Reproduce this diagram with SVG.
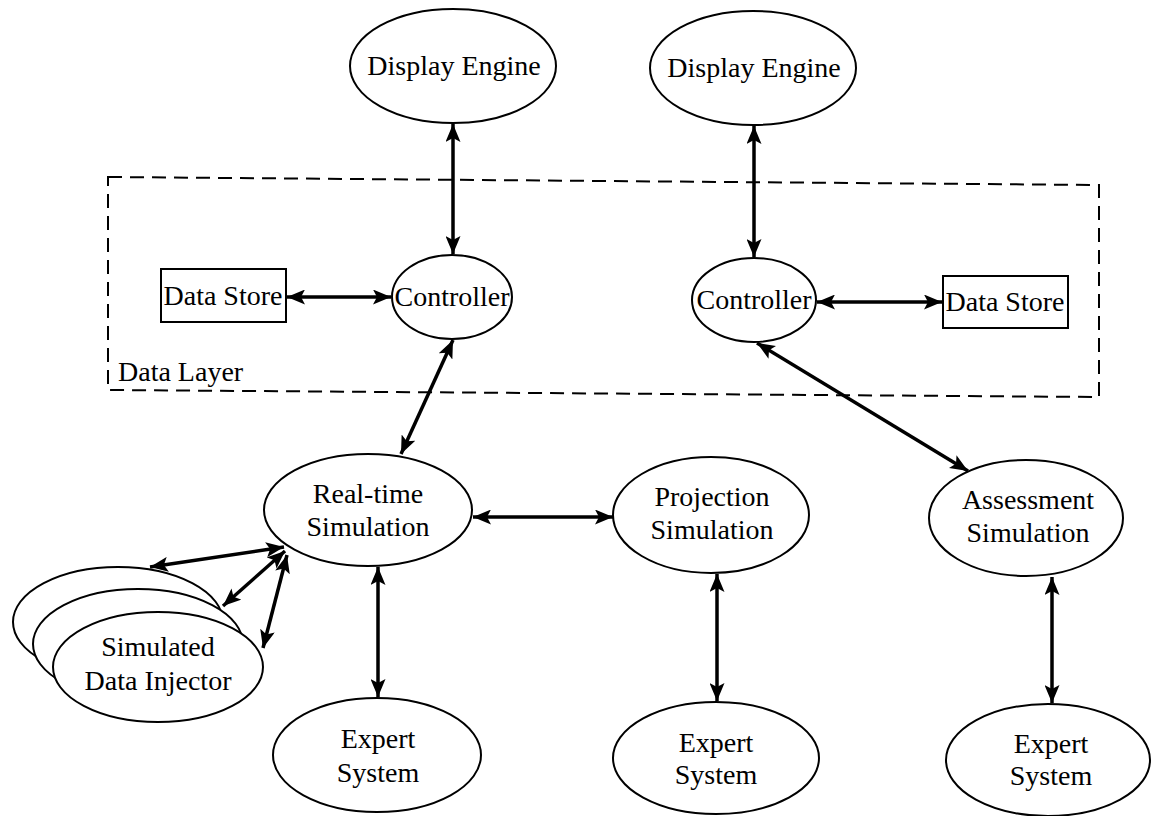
<svg xmlns="http://www.w3.org/2000/svg" width="1151" height="816" viewBox="0 0 1151 816">
<style>
  .n { fill: #fff; stroke: #000; stroke-width: 2; }
  .t { font-family: "Liberation Serif", "Times New Roman", serif; font-size: 28px; fill: #000; text-anchor: middle; }
  .c { stroke: #000; stroke-width: 3.5; fill: none; marker-start: url(#ah); marker-end: url(#ah); }
  .dash { fill: none; stroke: #000; stroke-width: 2; stroke-dasharray: 14 8; }
</style>
<defs>
  <marker id="ah" viewBox="0 0 18 15" refX="18" refY="7.5" markerWidth="18" markerHeight="15" markerUnits="userSpaceOnUse" orient="auto-start-reverse">
    <path d="M0,0 L18,7.5 L0,15 L4,7.5 z" fill="#000"/>
  </marker>
</defs>
<rect width="1151" height="816" fill="#fff"/>

<g id="data-layer">
  <path class="dash" d="M108,177 L1099,185 L1099,397 L108,390 Z"/>
  <text x="118" y="381" class="t" style="text-anchor:start">Data Layer</text>
</g>

<g id="display-engine-1">
  <ellipse class="n" cx="453" cy="66" rx="103" ry="57"/>
  <text class="t" x="454" y="75">Display Engine</text>
</g>
<g id="display-engine-2">
  <ellipse class="n" cx="753" cy="68" rx="103" ry="57"/>
  <text class="t" x="754" y="77">Display Engine</text>
</g>

<g id="data-store-1">
  <rect class="n" x="161" y="269" width="125" height="53"/>
  <text class="t" x="223" y="305">Data Store</text>
</g>
<g id="controller-1">
  <ellipse class="n" cx="452" cy="297" rx="60" ry="42"/>
  <text class="t" x="452" y="306">Controller</text>
</g>
<g id="controller-2">
  <ellipse class="n" cx="754" cy="300" rx="62" ry="42"/>
  <text class="t" x="754" y="309">Controller</text>
</g>
<g id="data-store-2">
  <rect class="n" x="943" y="276" width="125" height="52"/>
  <text class="t" x="1005" y="311">Data Store</text>
</g>

<g id="real-time-simulation">
  <ellipse class="n" cx="368" cy="510" rx="104" ry="56"/>
  <text class="t" x="368" y="503">Real-time</text>
  <text class="t" x="368" y="536">Simulation</text>
</g>
<g id="projection-simulation">
  <ellipse class="n" cx="711" cy="515" rx="98" ry="58"/>
  <text class="t" x="712" y="506">Projection</text>
  <text class="t" x="712" y="539">Simulation</text>
</g>
<g id="assessment-simulation">
  <ellipse class="n" cx="1026" cy="518" rx="97" ry="58"/>
  <text class="t" x="1028" y="509">Assessment</text>
  <text class="t" x="1028" y="542">Simulation</text>
</g>

<g id="simulated-data-injector">
  <ellipse class="n" cx="118" cy="622" rx="105" ry="55"/>
  <ellipse class="n" cx="138" cy="644" rx="105" ry="55"/>
  <ellipse class="n" cx="158" cy="667" rx="105" ry="55"/>
  <text class="t" x="158" y="656">Simulated</text>
  <text class="t" x="158" y="690">Data Injector</text>
</g>

<g id="expert-system-1">
  <ellipse class="n" cx="377" cy="755" rx="104" ry="57"/>
  <text class="t" x="378" y="748">Expert</text>
  <text class="t" x="378" y="782">System</text>
</g>
<g id="expert-system-2">
  <ellipse class="n" cx="716" cy="758" rx="103" ry="56"/>
  <text class="t" x="716" y="752">Expert</text>
  <text class="t" x="716" y="784">System</text>
</g>
<g id="expert-system-3">
  <ellipse class="n" cx="1048" cy="760" rx="102" ry="56"/>
  <text class="t" x="1051" y="753">Expert</text>
  <text class="t" x="1051" y="785">System</text>
</g>

<g id="connectors">
  <line class="c" x1="453" y1="124" x2="453" y2="254"/>
  <line class="c" x1="754" y1="126" x2="754" y2="257"/>
  <line class="c" x1="287" y1="297" x2="391" y2="297"/>
  <line class="c" x1="817" y1="302" x2="942" y2="302"/>
  <line class="c" x1="453" y1="340" x2="401" y2="454"/>
  <line class="c" x1="757" y1="343" x2="968" y2="471"/>
  <line class="c" x1="473" y1="517" x2="613" y2="517"/>
  <line class="c" x1="378" y1="567" x2="378" y2="697"/>
  <line class="c" x1="717" y1="574" x2="717" y2="701"/>
  <line class="c" x1="1052" y1="577" x2="1052" y2="703"/>
  <line class="c" x1="150" y1="567" x2="284" y2="547"/>
  <line class="c" x1="223" y1="606" x2="285" y2="551"/>
  <line class="c" x1="263" y1="648" x2="287" y2="555"/>
</g>
</svg>
